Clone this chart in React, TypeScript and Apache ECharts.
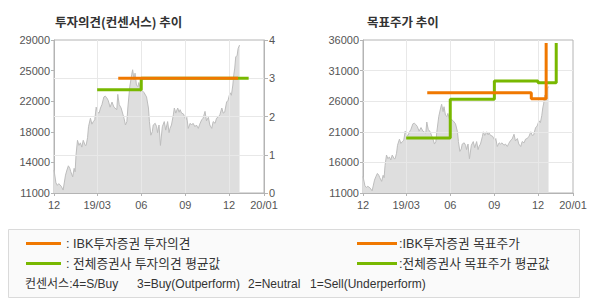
import React, { useEffect, useRef } from "react";
import * as echarts from "echarts";

// x values are calendar days counted from 2018-12-01
const priceDays = [
  0, 4, 7, 10, 15, 19, 24, 27, 30, 33, 35, 39, 42, 44, 46, 49, 52, 55, 58, 61,
  65, 67, 70, 72, 76, 79, 82, 85, 88, 91, 94, 97, 100, 104, 107, 110, 113, 117,
  121, 125, 131, 133, 136, 140, 144, 146, 149, 152, 154, 158, 162, 164, 167,
  169, 172, 175, 177, 181, 183, 188, 193, 197, 199, 202, 205, 207, 211, 214,
  216, 219, 222, 226, 230, 233, 237, 240, 242, 245, 249, 251, 254, 258, 261,
  263, 266, 270, 275, 277, 280, 284, 287, 290, 294, 297, 301, 304, 308, 311,
  315, 318, 322, 325, 329, 332, 336, 339, 342, 346, 350, 353, 356, 360, 363,
  367, 370, 373, 375, 377, 379, 382, 384, 387,
];
const prices = [
  13700, 12200, 11900, 12100, 11800, 11350, 13100, 13700, 14200, 13900, 13500,
  12900, 13900, 13500, 15500, 17200, 16600, 16900, 16400, 17200, 16600, 16600,
  17500, 18800, 19800, 19100, 19400, 19600, 21100, 20500, 20400, 21000, 21400,
  22300, 22400, 22200, 21900, 21100, 21700, 21100, 20800, 22600, 21400, 21000,
  20200, 19800, 19000, 19400, 21000, 23500, 24900, 25500, 24300, 25100, 23700,
  23500, 24000, 22900, 23100, 22800, 22300, 21000, 19400, 17800, 18200, 19000,
  19200, 18800, 18100, 19000, 16600, 18800, 19400, 18400, 19400, 18100, 18600,
  19000, 20200, 21000, 20400, 21000, 20500, 20800, 20400, 20300, 19600, 19900,
  18600, 19200, 19000, 19200, 18800, 19000, 18600, 19100, 19600, 19800, 20600,
  19500, 19900, 19000, 18600, 19400, 19200, 19800, 19900, 20200, 21000, 20400,
  20500, 21700, 21900, 22800, 22500, 23700, 24900, 25700, 27000, 27200, 28000,
  28400,
];

// 투자의견 (0-4)
const ibkOpinionDays = [134, 384];
const ibkOpinion = [3, 3];
const avgOpinionDays = [90, 182, 406];
const avgOpinion = [2.7, 3, 3];

// 목표주가
const ibkTargetDays = [134, 351, 382];
const ibkTarget = [27400, 26400, 35500];
const avgTargetDays = [90, 182, 274, 365, 403];
const avgTarget = [20000, 26300, 29300, 29000, 35500];

const xTickDays = [0, 90, 182, 274, 365, 438];
const xTickLabels = ["12", "19/03", "06", "09", "12", "20/01"];
const xGridDays = [90, 182, 274, 365];

const priceTickValues = [11000, 14600, 18200, 21800, 25400, 29000];
const priceTickLabels = ["11000", "14000", "18000", "22000", "25000", "29000"];
const opinionGrid = [1, 2, 3];
const targetTickValues = [11000, 16000, 21000, 26000, 31000, 36000];
const targetGrid = [16000, 21000, 26000, 31000];

const ORANGE = "#f07800";
const GREEN = "#78b800";
const AXIS = "#b4b4b4";
const GRIDC = "#e8e8e8";
const LABEL = "#555";
const NUMFONT = "Liberation Sans";
const KFONT = "Noto Sans CJK KR";

const zip = (xs: number[], ys: number[]) => xs.map((x, i) => [x, ys[i]]);

function xAxisFor(gridIndex: number) {
  return {
    type: "value",
    gridIndex,
    min: 0,
    max: 438,
    axisLine: { show: true, lineStyle: { color: AXIS } },
    axisTick: {
      show: true,
      customValues: xTickDays,
      length: 3,
      lineStyle: { color: AXIS },
    },
    axisLabel: {
      customValues: xTickDays,
      formatter: (v: number) => {
        const i = xTickDays.indexOf(v);
        return i >= 0 ? xTickLabels[i] : "";
      },
      margin: 6,
      color: LABEL,
      fontSize: 11,
      fontFamily: NUMFONT,
    },
    splitLine: { show: false },
  };
}

function gridLines(xAxisIndex: number, yAxisIndex: number, yVals: number[]) {
  return {
    type: "line",
    xAxisIndex,
    yAxisIndex,
    data: [],
    silent: true,
    z: 3,
    markLine: {
      silent: true,
      z: 3,
      symbol: ["none", "none"],
      label: { show: false },
      emphasis: { disabled: true },
      lineStyle: { color: GRIDC, width: 1, type: "solid" },
      data: [
        ...xGridDays.map((d) => ({ xAxis: d })),
        ...yVals.map((v) => ({ yAxis: v })),
      ],
    },
  };
}

function priceSeries(xAxisIndex: number, yAxisIndex: number) {
  return {
    type: "line",
    xAxisIndex,
    yAxisIndex,
    data: zip(priceDays, prices),
    symbol: "none",
    showSymbol: false,
    silent: true,
    z: 2,
    lineStyle: { color: "#bdbdbd", width: 1 },
    areaStyle: { color: "#dedede", opacity: 1, origin: "start" },
  };
}

function stepSeries(
  xAxisIndex: number,
  yAxisIndex: number,
  xs: number[],
  ys: number[],
  color: string,
  z: number
) {
  return {
    type: "line",
    xAxisIndex,
    yAxisIndex,
    data: zip(xs, ys),
    step: "end",
    symbol: "none",
    showSymbol: false,
    silent: true,
    z,
    lineStyle: { color, width: 3 },
  };
}

export default function App() {
  const ref = useRef<HTMLDivElement>(null);
  useEffect(() => {
    if (!ref.current) return;
    const chart = echarts.init(ref.current, undefined, { renderer: "svg" });
    const legendText = (x: number, y: number, text: string, size = 12) => ({
      type: "text",
      x,
      y,
      style: {
        text,
        fill: "#333",
        font: `${size}px "${NUMFONT}", "${KFONT}"`,
        verticalAlign: "middle",
        align: "left",
      },
    });
    const legendLine = (x1: number, x2: number, y: number, color: string) => ({
      type: "line",
      shape: { x1, y1: y, x2, y2: y },
      style: { stroke: color, lineWidth: 3 },
    });
    chart.setOption({
      animation: false,
      backgroundColor: "#fff",
      grid: [
        {
          left: 54,
          top: 40,
          width: 210,
          height: 153,
          show: true,
          borderColor: AXIS,
          borderWidth: 1,
          backgroundColor: "transparent",
        },
        {
          left: 363,
          top: 40,
          width: 210,
          height: 153,
          show: true,
          borderColor: AXIS,
          borderWidth: 1,
          backgroundColor: "transparent",
        },
      ],
      xAxis: [xAxisFor(0), xAxisFor(1)],
      yAxis: [
        {
          type: "value",
          gridIndex: 0,
          position: "left",
          min: 11000,
          max: 29000,
          axisLine: { show: true, lineStyle: { color: AXIS } },
          axisTick: {
            show: true,
            customValues: priceTickValues,
            length: 3,
            lineStyle: { color: AXIS },
          },
          axisLabel: {
            customValues: priceTickValues,
            formatter: (v: number) => {
              const i = priceTickValues.indexOf(v);
              return i >= 0 ? priceTickLabels[i] : "";
            },
            margin: 4,
            color: LABEL,
            fontSize: 11,
            fontFamily: NUMFONT,
          },
          splitLine: { show: false },
        },
        {
          type: "value",
          gridIndex: 0,
          position: "right",
          min: 0,
          max: 4,
          interval: 1,
          axisLine: { show: true, lineStyle: { color: AXIS } },
          axisTick: { show: true, length: 4, lineStyle: { color: AXIS } },
          axisLabel: {
            margin: 5,
            color: LABEL,
            fontSize: 11,
            fontFamily: NUMFONT,
          },
          splitLine: { show: false },
        },
        {
          type: "value",
          gridIndex: 1,
          position: "left",
          min: 11000,
          max: 36000,
          axisLine: { show: true, lineStyle: { color: AXIS } },
          axisTick: {
            show: true,
            customValues: targetTickValues,
            length: 3,
            lineStyle: { color: AXIS },
          },
          axisLabel: {
            customValues: targetTickValues,
            formatter: (v: number) => String(v),
            margin: 4,
            color: LABEL,
            fontSize: 11,
            fontFamily: NUMFONT,
          },
          splitLine: { show: false },
        },
      ],
      series: [
        priceSeries(0, 0),
        gridLines(0, 1, opinionGrid),
        stepSeries(0, 1, avgOpinionDays, avgOpinion, GREEN, 10),
        stepSeries(0, 1, ibkOpinionDays, ibkOpinion, ORANGE, 11),
        priceSeries(1, 2),
        gridLines(1, 2, targetGrid),
        stepSeries(1, 2, avgTargetDays, avgTarget, GREEN, 10),
        stepSeries(1, 2, ibkTargetDays, ibkTarget, ORANGE, 11),
      ],
      graphic: [
        {
          type: "text",
          x: 55,
          y: 21,
          style: {
            text: "투자의견(컨센서스) 추이",
            fill: "#333",
            font: `bold 12.5px "${KFONT}"`,
            verticalAlign: "middle",
          },
        },
        {
          type: "text",
          x: 367,
          y: 21,
          style: {
            text: "목표주가 추이",
            fill: "#333",
            font: `bold 12.5px "${KFONT}"`,
            verticalAlign: "middle",
          },
        },
        {
          type: "rect",
          shape: { x: 8.5, y: 229.5, width: 571, height: 68 },
          style: { fill: "#fafafa", stroke: "#dadada", lineWidth: 1 },
        },
        legendLine(26, 61, 243.5, ORANGE),
        legendText(66, 243.5, ": IBK투자증권 투자의견", 12.7),
        legendLine(26, 61, 263.5, GREEN),
        legendText(66, 263.5, ": 전체증권사 투자의견 평균값", 12.7),
        legendLine(357, 397, 243.5, ORANGE),
        legendText(399, 243.5, ":IBK투자증권 목표주가", 12.7),
        legendLine(357, 397, 263.5, GREEN),
        legendText(399, 263.5, ":전체증권사 목표주가 평균값", 12.7),
        legendText(25, 284, "컨센서스:4=S/Buy"),
        legendText(137, 284, "3=Buy(Outperform)"),
        legendText(248, 284, "2=Neutral"),
        legendText(310, 284, "1=Sell(Underperform)"),
      ],
    });
    return () => chart.dispose();
  }, []);
  return (
    <div
      ref={ref}
      style={{
        position: "fixed",
        left: 0,
        top: 0,
        width: 590,
        height: 300,
        background: "#fff",
      }}
    />
  );
}
